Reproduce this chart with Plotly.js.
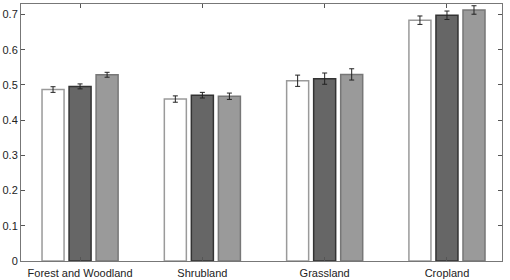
<!DOCTYPE html>
<html>
<head>
<meta charset="utf-8">
<script src="https://cdn.plot.ly/plotly-3.0.1.min.js"></script>
<style>html,body{margin:0;padding:0;background:#fff;}#chart{width:510px;height:280px;}</style>
</head>
<body>
<div id="chart"></div>
<script>
const categories = ["Forest and Woodland", "Shrubland", "Grassland", "Cropland"];
const series1 = [0.487, 0.460, 0.512, 0.684];
const series2 = [0.496, 0.471, 0.518, 0.698];
const series3 = [0.529, 0.468, 0.530, 0.713];
const err1 = [0.008, 0.009, 0.016, 0.012];
const err2 = [0.007, 0.008, 0.016, 0.012];
const err3 = [0.007, 0.009, 0.016, 0.012];
const yTicks = [0, 0.1, 0.2, 0.3, 0.4, 0.5, 0.6, 0.7];

const styles = [
  {fill: "#ffffff", line: "#9a9a9a"},
  {fill: "#666666", line: "#333333"},
  {fill: "#9a9a9a", line: "#777777"}
];
const vals = [series1, series2, series3];
const errs = [err1, err2, err3];
const xIdx = categories.map((c, i) => i);

const traces = vals.map((v, k) => ({
  type: "bar",
  x: xIdx,
  y: v,
  marker: {color: styles[k].fill, line: {color: styles[k].line, width: 1.5}},
  error_y: {type: "data", array: errs[k], visible: true, color: "#222", thickness: 1, width: 2.5},
  showlegend: false,
  hoverinfo: "none"
}));

const layout = {
  width: 510, height: 280,
  margin: {l: 21, r: 8, t: 4, b: 19},
  paper_bgcolor: "#fff", plot_bgcolor: "#fff",
  barmode: "group",
  bargap: 0.337,
  bargroupgap: 0.185,
  font: {family: "Liberation Sans, Arial, sans-serif", size: 11, color: "#222"},
  xaxis: {
    range: [-0.483, 3.45],
    tickmode: "array", tickvals: xIdx, ticktext: categories,
    ticks: "inside", ticklen: 4, tickcolor: "#555", tickwidth: 1,
    ticklabelstandoff: 2,
    showline: true, linecolor: "#777", linewidth: 1, mirror: "ticks",
    showgrid: false, zeroline: false, fixedrange: true,
    tickfont: {size: 11, color: "#222"}
  },
  yaxis: {
    range: [0, 0.73],
    tickmode: "array", tickvals: yTicks, ticktext: yTicks.map(v => v === 0 ? "0" : v.toFixed(1)),
    ticks: "inside", ticklen: 4, tickcolor: "#555", tickwidth: 1,
    showline: true, linecolor: "#777", linewidth: 1, mirror: "ticks",
    showgrid: false, zeroline: false, fixedrange: true,
    tickfont: {size: 11, color: "#222"}
  }
};

Plotly.newPlot("chart", traces, layout, {staticPlot: true, displayModeBar: false});
</script>
</body>
</html>
